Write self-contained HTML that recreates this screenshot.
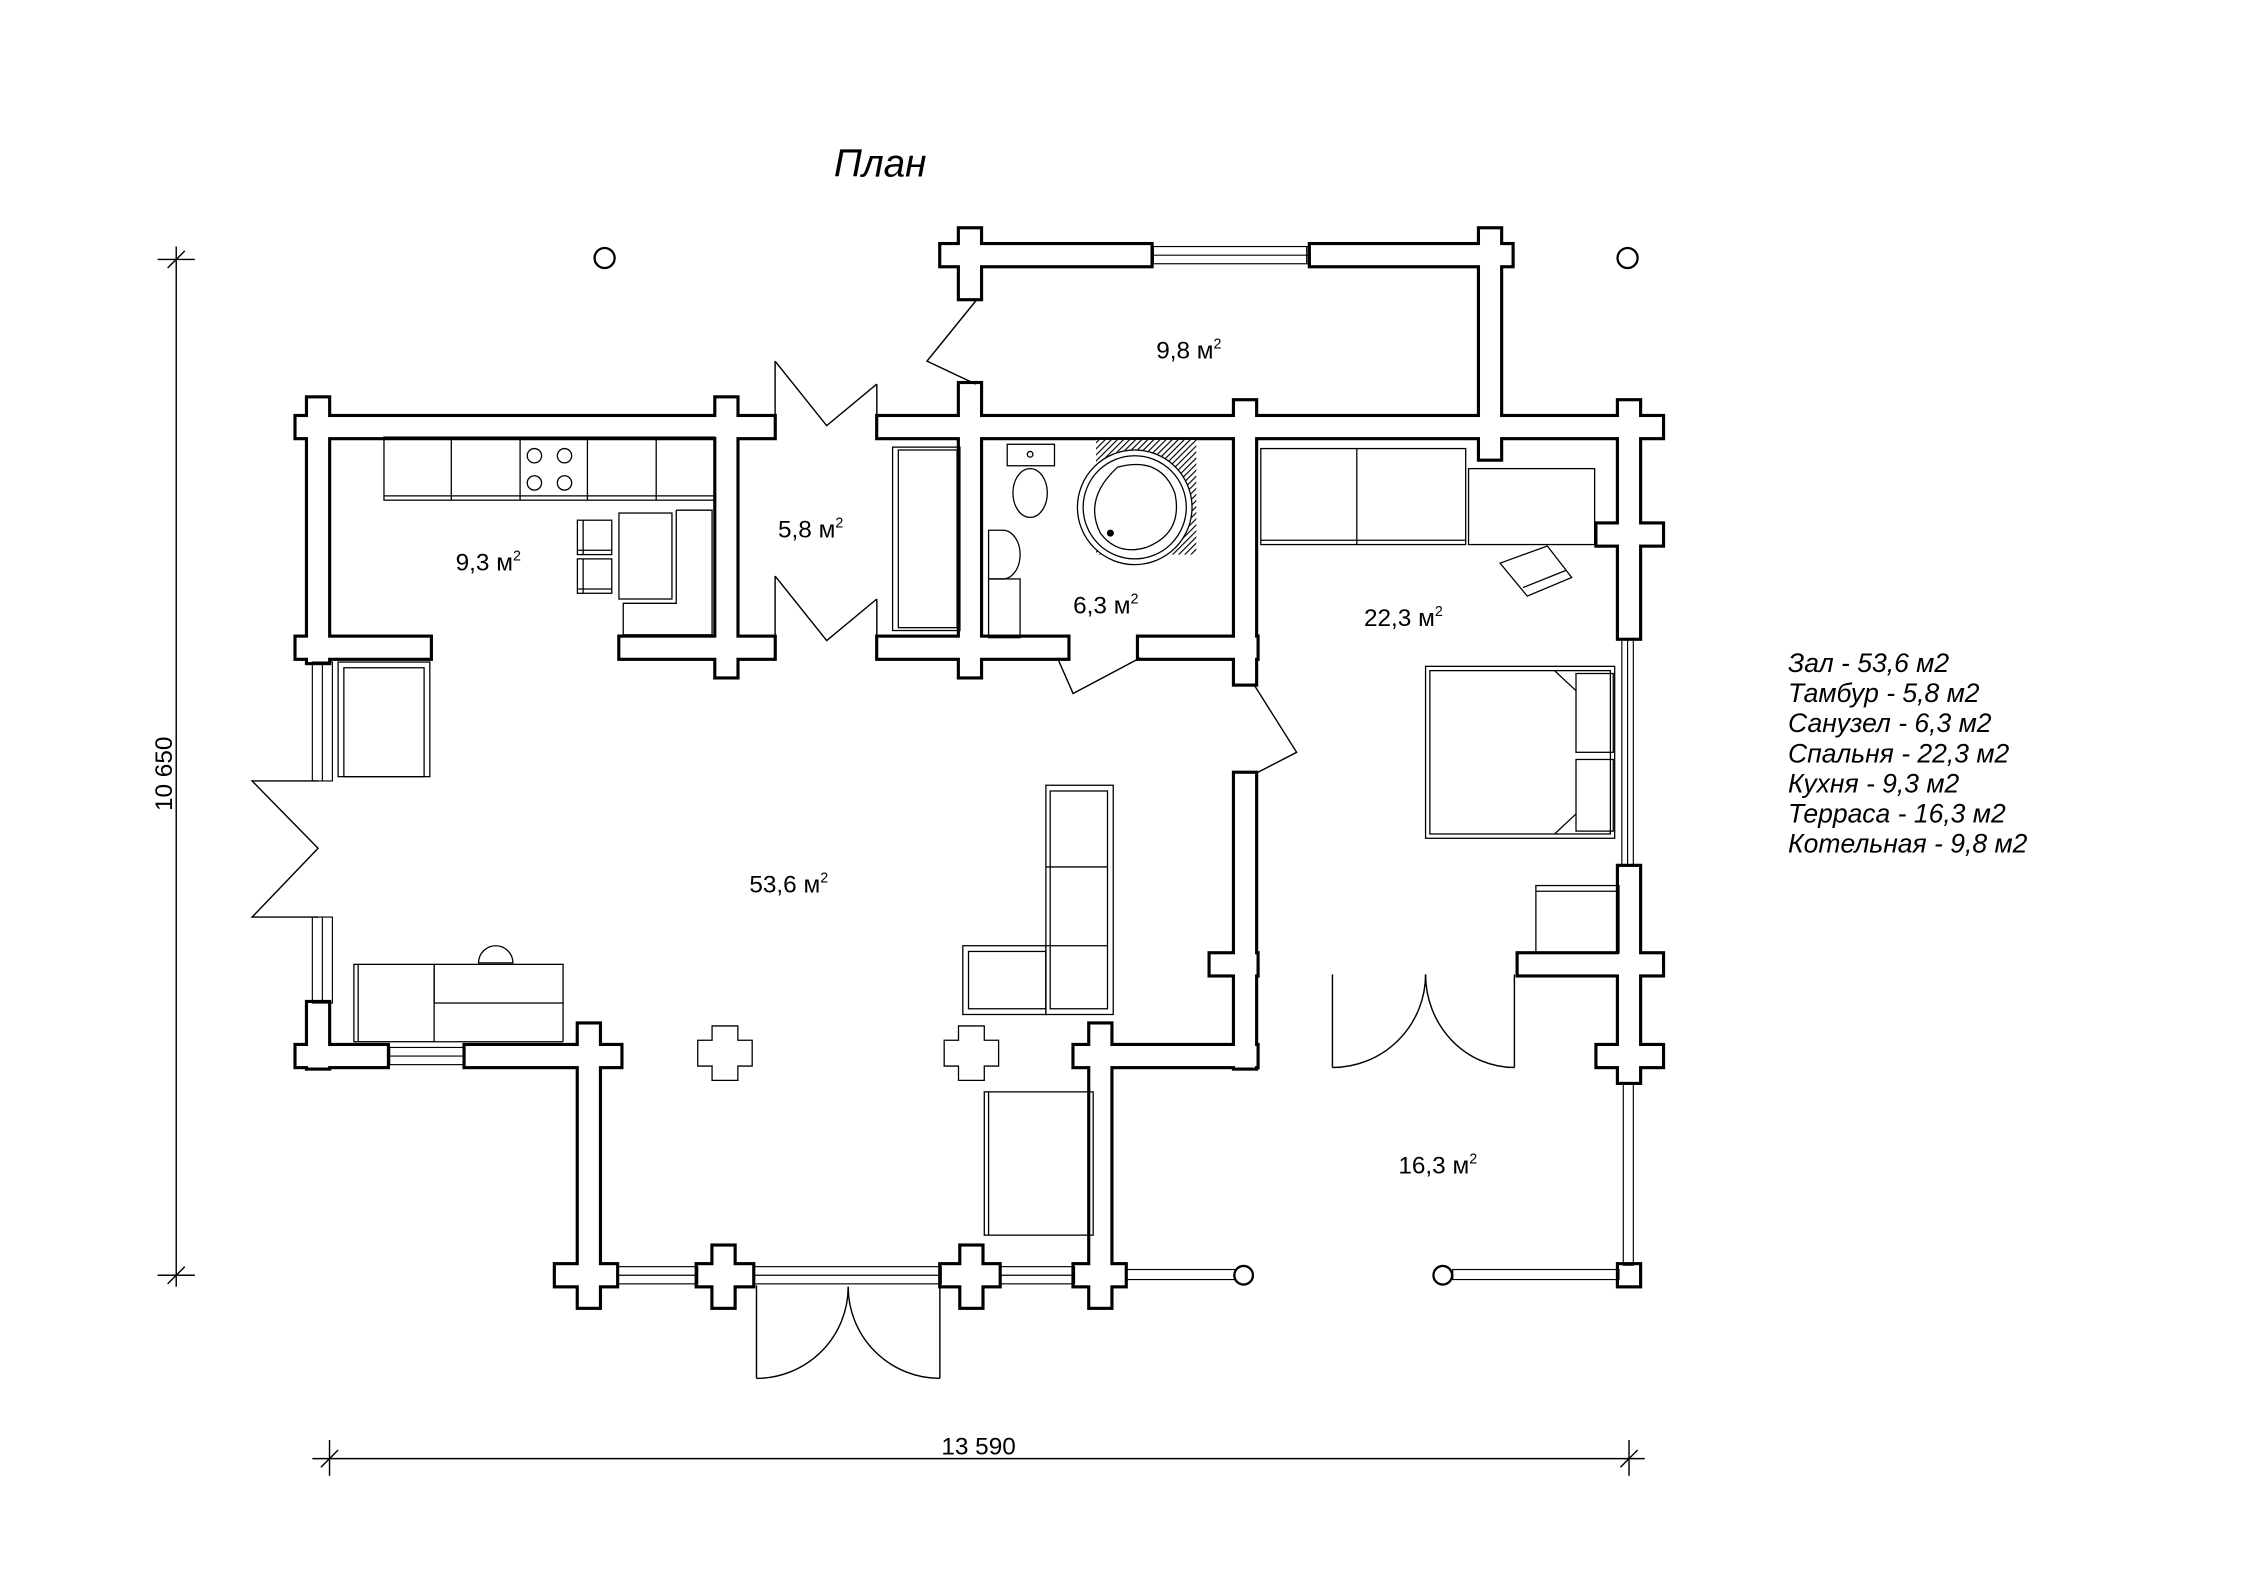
<!DOCTYPE html>
<html><head><meta charset="utf-8"><style>
html,body{margin:0;padding:0;background:#fff;}
svg{display:block;}
text{font-family:"Liberation Sans",sans-serif;fill:#000;}
</style></head><body>
<svg width="2245" height="1587" viewBox="0 0 1545 1092" xmlns="http://www.w3.org/2000/svg">
<defs>
<pattern id="hat" width="3" height="3" patternUnits="userSpaceOnUse" patternTransform="rotate(45)">
<rect width="3" height="3" fill="#fff"/><line x1="0" y1="0" x2="0" y2="3" stroke="#000" stroke-width="1.6"/>
</pattern>
</defs>
<rect width="1545" height="1092" fill="#fff"/>
<g transform="scale(0.986)">
<text x="582" y="123" font-size="27" font-style="italic">План</text>

<!-- dimensions -->
<g stroke="#000" stroke-width="1" fill="none">
<line x1="123" y1="172" x2="123" y2="898"/>
<line x1="110" y1="181" x2="136" y2="181"/><line x1="117" y1="187" x2="129" y2="175"/>
<line x1="110" y1="890" x2="136" y2="890"/><line x1="117" y1="896" x2="129" y2="884"/>
<line x1="218" y1="1018" x2="1148" y2="1018"/>
<line x1="230" y1="1005" x2="230" y2="1030"/><line x1="224" y1="1024" x2="236" y2="1012"/>
<line x1="1137" y1="1005" x2="1137" y2="1030"/><line x1="1131" y1="1024" x2="1143" y2="1012"/>
</g>
<text x="683" y="1015" font-size="17" text-anchor="middle">13 590</text>
<text transform="translate(120,540) rotate(-90)" font-size="17" text-anchor="middle">10 650</text>

<g stroke="#000" stroke-width="1.6" fill="#fff">
<circle cx="422" cy="180" r="7"/><circle cx="1136" cy="180" r="7"/>
<circle cx="868" cy="890" r="6.5"/><circle cx="1007" cy="890" r="6.5"/>
</g>

<!-- walls: stroke layer -->
<g stroke="#000" stroke-width="4.4" fill="#000">
<rect x="657" y="171" width="146" height="14"/><rect x="915" y="171" width="140" height="14"/>
<rect x="207" y="291" width="333" height="14"/><rect x="613" y="291" width="547" height="14"/>
<rect x="207" y="445" width="93" height="14"/><rect x="433" y="445" width="107" height="14"/>
<rect x="613" y="445" width="132" height="14"/><rect x="795" y="445" width="82" height="14"/>
<rect x="845" y="666" width="32" height="14"/><rect x="1060" y="666" width="100" height="14"/>
<rect x="207" y="730" width="63" height="14"/><rect x="325" y="730" width="108" height="14"/>
<rect x="750" y="730" width="127" height="14"/>
<rect x="388" y="883" width="42" height="14"/><rect x="487" y="883" width="38" height="14"/>
<rect x="657" y="883" width="40" height="14"/><rect x="750" y="883" width="35" height="14"/>
<rect x="215" y="278" width="14" height="184"/><rect x="215" y="700" width="14" height="45"/>
<rect x="500" y="278" width="14" height="194"/>
<rect x="670" y="160" width="14" height="48"/><rect x="670" y="268" width="14" height="204"/>
<rect x="1033" y="160" width="14" height="160"/>
<rect x="862" y="280" width="14" height="197"/><rect x="862" y="540" width="14" height="205"/>
<rect x="1130" y="280" width="14" height="165"/><rect x="1130" y="605" width="14" height="150"/>
<rect x="1115" y="366" width="45" height="14"/><rect x="1115" y="730" width="45" height="14"/>
<rect x="404" y="715" width="14" height="197"/><rect x="761" y="715" width="14" height="197"/>
<rect x="498" y="870" width="14" height="42"/><rect x="671" y="870" width="14" height="42"/>
<rect x="1130" y="883" width="14" height="14"/>
</g>
<g fill="#fff">
<rect x="657" y="171" width="146" height="14"/><rect x="915" y="171" width="140" height="14"/>
<rect x="207" y="291" width="333" height="14"/><rect x="613" y="291" width="547" height="14"/>
<rect x="207" y="445" width="93" height="14"/><rect x="433" y="445" width="107" height="14"/>
<rect x="613" y="445" width="132" height="14"/><rect x="795" y="445" width="82" height="14"/>
<rect x="845" y="666" width="32" height="14"/><rect x="1060" y="666" width="100" height="14"/>
<rect x="207" y="730" width="63" height="14"/><rect x="325" y="730" width="108" height="14"/>
<rect x="750" y="730" width="127" height="14"/>
<rect x="388" y="883" width="42" height="14"/><rect x="487" y="883" width="38" height="14"/>
<rect x="657" y="883" width="40" height="14"/><rect x="750" y="883" width="35" height="14"/>
<rect x="215" y="278" width="14" height="184"/><rect x="215" y="700" width="14" height="45"/>
<rect x="500" y="278" width="14" height="194"/>
<rect x="670" y="160" width="14" height="48"/><rect x="670" y="268" width="14" height="204"/>
<rect x="1033" y="160" width="14" height="160"/>
<rect x="862" y="280" width="14" height="197"/><rect x="862" y="540" width="14" height="205"/>
<rect x="1130" y="280" width="14" height="165"/><rect x="1130" y="605" width="14" height="150"/>
<rect x="1115" y="366" width="45" height="14"/><rect x="1115" y="730" width="45" height="14"/>
<rect x="404" y="715" width="14" height="197"/><rect x="761" y="715" width="14" height="197"/>
<rect x="498" y="870" width="14" height="42"/><rect x="671" y="870" width="14" height="42"/>
<rect x="1130" y="883" width="14" height="14"/>
</g>

<!-- windows / railings -->
<g stroke="#000" stroke-width="0.8" fill="none">
<rect x="805" y="172" width="108" height="12"/><line x1="805" y1="178" x2="913" y2="178"/>
<line x1="912" y1="172" x2="912" y2="184"/>
<rect x="272" y="731" width="52" height="12"/><line x1="272" y1="737" x2="324" y2="737"/>
<rect x="431" y="884" width="56" height="12"/><line x1="431" y1="890" x2="487" y2="890"/>
<rect x="698" y="884" width="52" height="12"/><line x1="698" y1="890" x2="750" y2="890"/>
<rect x="526" y="884" width="131" height="12"/><line x1="526" y1="890" x2="657" y2="890"/>
<rect x="786" y="886" width="76" height="7"/><rect x="1014" y="886" width="116" height="7"/>
<rect x="1133" y="756" width="7" height="127"/>
<rect x="1132" y="446" width="8" height="158"/><line x1="1136" y1="446" x2="1136" y2="604"/>
<rect x="218" y="462" width="14" height="83"/><line x1="225" y1="462" x2="225" y2="545"/>
<rect x="218" y="640" width="14" height="60"/><line x1="225" y1="640" x2="225" y2="700"/>
</g>

<!-- doors -->
<g stroke="#000" stroke-width="1" fill="none">
<polyline points="222,545 176,545 222,592 176,640 222,640"/>
<polyline points="541,252 577,297 612,268"/>
<polyline points="541,402 577,447 612,418"/>
<line x1="541" y1="252" x2="541" y2="305"/><line x1="612" y1="268" x2="612" y2="305"/>
<line x1="541" y1="402" x2="541" y2="459"/><line x1="612" y1="418" x2="612" y2="459"/>
<polyline points="681,210 647,252 681,268"/>
<polyline points="738,459 749,484 796,459"/>
<polyline points="876,479 905,525 876,540"/>
<line x1="930" y1="680" x2="930" y2="745"/><path d="M930,745 A65,65 0 0 0 995,680"/>
<line x1="1057" y1="680" x2="1057" y2="745"/><path d="M1057,745 A62,65 0 0 1 995,680"/>
<line x1="528" y1="897" x2="528" y2="962"/><path d="M528,962 A64,64 0 0 0 592,898"/>
<line x1="656" y1="897" x2="656" y2="962"/><path d="M656,962 A64,64 0 0 1 592,898"/>
</g>

<!-- furniture -->
<g stroke="#000" stroke-width="0.9" fill="none">
<rect x="268" y="305" width="231" height="44"/><line x1="268" y1="346" x2="499" y2="346"/>
<line x1="315" y1="305" x2="315" y2="349"/><line x1="363" y1="305" x2="363" y2="349"/>
<line x1="410" y1="305" x2="410" y2="349"/><line x1="458" y1="305" x2="458" y2="349"/>
<circle cx="373" cy="318" r="5"/><circle cx="394" cy="318" r="5"/>
<circle cx="373" cy="337" r="5"/><circle cx="394" cy="337" r="5"/>
<rect x="432" y="358" width="37" height="60"/>
<polyline points="472,356 497,356 497,443 435,443 435,421 472,421 472,356"/>
<rect x="403" y="363" width="24" height="24"/><line x1="407" y1="363" x2="407" y2="387"/><line x1="403" y1="384" x2="427" y2="384"/>
<rect x="403" y="390" width="24" height="24"/><line x1="407" y1="390" x2="407" y2="414"/><line x1="403" y1="411" x2="427" y2="411"/>
<rect x="236" y="462" width="64" height="80"/><rect x="240" y="466" width="56" height="76"/>
<rect x="247" y="673" width="56" height="54"/><line x1="250" y1="673" x2="250" y2="727"/>
<rect x="303" y="673" width="90" height="27"/>
<line x1="303" y1="727" x2="393" y2="727"/><line x1="393" y1="700" x2="393" y2="727"/>
<path d="M334,672 A12,12 0 0 1 358,672 Z"/>
<path d="M497,716 h18 v10 h10 v18 h-10 v10 h-18 v-10 h-10 v-18 h10 z"/>
<path d="M669,716 h18 v10 h10 v18 h-10 v10 h-18 v-10 h-10 v-18 h10 z"/>
<rect x="730" y="548" width="47" height="160"/><rect x="733" y="552" width="40" height="152"/>
<line x1="730" y1="605" x2="773" y2="605"/><line x1="730" y1="660" x2="773" y2="660"/>
<rect x="672" y="660" width="58" height="48"/><rect x="676" y="664" width="54" height="40"/>
<rect x="687" y="762" width="76" height="100"/><line x1="690" y1="762" x2="690" y2="862"/>
<rect x="623" y="312" width="47" height="128"/><rect x="627" y="314" width="41" height="124"/>
<rect x="703" y="310" width="33" height="15"/><ellipse cx="719" cy="344" rx="12" ry="17"/>
<circle cx="719" cy="317" r="2"/>
<path d="M690,370 h10 a12,17 0 0 1 0,34 h-10 z"/><rect x="690" y="404" width="22" height="41"/>
<rect x="765" y="307" width="70" height="80" fill="url(#hat)" stroke="none"/>
<circle cx="792" cy="354" r="40" fill="#fff"/><circle cx="792" cy="354" r="36"/>
<path d="M780,326 q30,-8 40,18 q6,28 -20,38 q-20,6 -32,-10 q-12,-24 12,-46z"/>
<circle cx="775" cy="372" r="2" fill="#000"/>
<rect x="880" y="313" width="143" height="67"/><line x1="947" y1="313" x2="947" y2="380"/><line x1="880" y1="377" x2="1023" y2="377"/>
<rect x="1025" y="327" width="88" height="53"/>
<path d="M1047,393 L1080,381 L1097,403 L1066,416 Z"/><line x1="1063" y1="410" x2="1093" y2="398"/>
<rect x="995" y="465" width="132" height="120"/><rect x="998" y="468" width="126" height="114"/>
<rect x="1100" y="470" width="26" height="55"/><rect x="1100" y="530" width="26" height="50"/>
<line x1="1085" y1="468" x2="1100" y2="482"/><line x1="1085" y1="582" x2="1100" y2="568"/>
<rect x="1072" y="618" width="58" height="47"/><line x1="1072" y1="622" x2="1130" y2="622"/>
</g>

<g font-size="17">
<text x="318" y="398">9,3 м<tspan font-size="10" dy="-7">2</tspan></text>
<text x="543" y="375">5,8 м<tspan font-size="10" dy="-7">2</tspan></text>
<text x="807" y="250">9,8 м<tspan font-size="10" dy="-7">2</tspan></text>
<text x="749" y="428">6,3 м<tspan font-size="10" dy="-7">2</tspan></text>
<text x="952" y="437">22,3 м<tspan font-size="10" dy="-7">2</tspan></text>
<text x="523" y="623">53,6 м<tspan font-size="10" dy="-7">2</tspan></text>
<text x="976" y="819">16,3 м<tspan font-size="10" dy="-7">2</tspan></text>
</g>
<g font-size="18.5" font-style="italic">
<text x="1248" y="469">Зал - 53,6 м2</text>
<text x="1248" y="490">Тамбур - 5,8 м2</text>
<text x="1248" y="511">Санузел - 6,3 м2</text>
<text x="1248" y="532">Спальня - 22,3 м2</text>
<text x="1248" y="553">Кухня - 9,3 м2</text>
<text x="1248" y="574">Терраса - 16,3 м2</text>
<text x="1248" y="595">Котельная - 9,8 м2</text>
</g>
</g>
</svg>
</body></html>
